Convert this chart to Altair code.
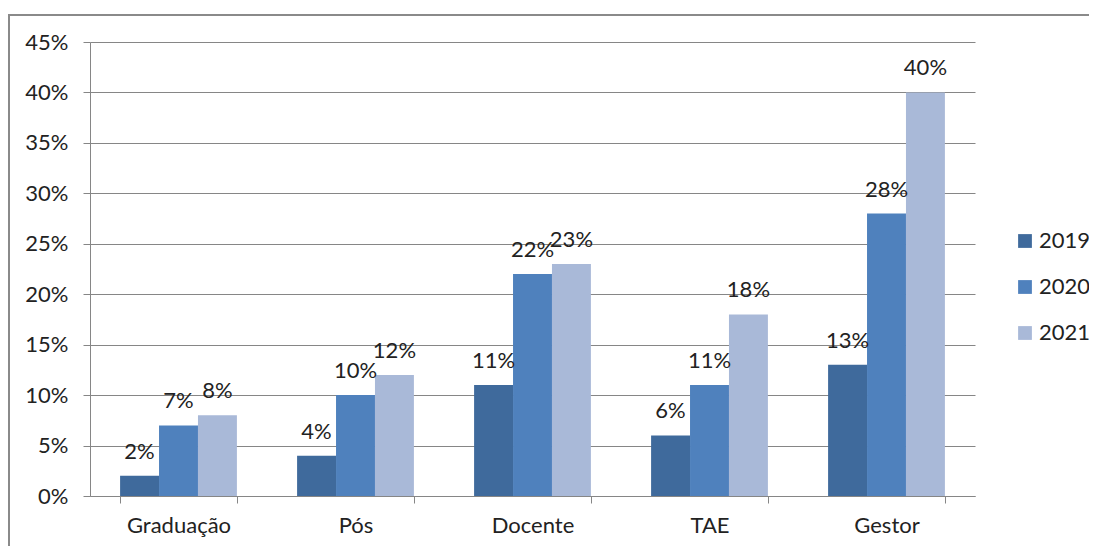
import altair as alt
import pandas as pd

categories = ["Graduação", "Pós", "Docente", "TAE", "Gestor"]
years = ["2019", "2020", "2021"]
v2019 = [0.02, 0.04, 0.11, 0.06, 0.13]
v2020 = [0.07, 0.10, 0.22, 0.11, 0.28]
v2021 = [0.08, 0.12, 0.23, 0.18, 0.40]
colors = ["#3F6A9C", "#4F81BD", "#A9B9D8"]
y_ticks = [0, 0.05, 0.10, 0.15, 0.20, 0.25, 0.30, 0.35, 0.40, 0.45]

rows = []
for yr, vals in zip(years, [v2019, v2020, v2021]):
    for c, v in zip(categories, vals):
        rows.append({"cat": c, "year": yr, "value": v})
df = pd.DataFrame(rows)

FONT = "Lato"
GRAY = "#868686"

base = alt.Chart(df)

x_enc = alt.X("cat:N", sort=categories, title=None,
              scale=alt.Scale(paddingInner=0.34, paddingOuter=0.17),
              axis=alt.Axis(labelAngle=0, tickBand="extent", domainColor=GRAY,
                            tickColor=GRAY, tickSize=7, labelPadding=12,
                            labelFontSize=22, labelFont=FONT, labelColor="#222222",
                            grid=False))
y_enc = alt.Y("value:Q", title=None,
              scale=alt.Scale(domain=[0, 0.45], nice=False),
              axis=alt.Axis(values=y_ticks, format=".0%", domainColor=GRAY,
                            tickColor=GRAY, tickSize=7, labelPadding=15,
                            gridColor=GRAY, gridWidth=1, labelFontSize=22,
                            labelFont=FONT, labelColor="#222222"))
xoff = alt.XOffset("year:N", sort=years, scale=alt.Scale(paddingInner=0, paddingOuter=0))

bars = base.mark_bar().encode(
    x=x_enc, y=y_enc, xOffset=xoff,
    color=alt.Color("year:N", sort=years,
                    scale=alt.Scale(domain=years, range=colors),
                    legend=alt.Legend(title=None, orient="none", legendX=924, legendY=188,
                                      symbolType="square", symbolSize=190,
                                      symbolStrokeWidth=0, labelFontSize=22,
                                      labelFont=FONT, labelColor="#222222",
                                      rowPadding=24, labelOffset=3, padding=0)),
)

labels = base.mark_text(fontSize=22, font=FONT, color="#222222", baseline="middle",
                        dy=-24).encode(
    x=alt.X("cat:N", sort=categories), y="value:Q", xOffset=xoff,
    text=alt.Text("value:Q", format=".0%"),
)

border_data = alt.Data(values=[{"k": 1}])
top_line = alt.Chart(border_data).mark_rule(color="#8a8a8a", strokeWidth=2).encode(
    x=alt.value(-82), x2=alt.value(1100), y=alt.value(-27))
left_line = alt.Chart(border_data).mark_rule(color="#8a8a8a", strokeWidth=2).encode(
    x=alt.value(-81), y=alt.value(-28), y2=alt.value(600))

chart = alt.layer(bars, labels, top_line, left_line).properties(
    width=885, height=454,
    padding={"left": 82, "top": 34, "right": 114, "bottom": 50},
    autosize=alt.AutoSizeParams(type="none"),
).configure_view(stroke=None).configure_axis(labelFont=FONT)

chart.save("out.html", embed_options={"renderer": "svg", "actions": False})
